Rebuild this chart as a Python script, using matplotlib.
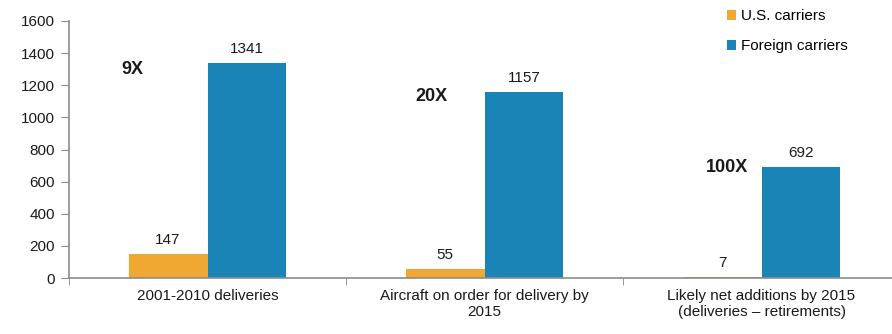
import numpy as np
import matplotlib.pyplot as plt

plt.rcParams['font.family'] = ['Liberation Sans', 'DejaVu Sans']

# data
categories = ['2001-2010 deliveries',
              'Aircraft on order for delivery by\n2015',
              'Likely net additions by 2015\n(deliveries \u2013 retirements)']
us_carriers = [147, 55, 7]
foreign_carriers = [1341, 1157, 692]
multiples = ['9X', '20X', '100X']
multiple_pos = [(-0.27, 1300), (0.81, 1130), (1.875, 690)]

orange = '#F0A833'
blue = '#1B84B7'
grey = '#8C8C8C'
txt_col = '#1a1a1a'

fig = plt.figure(figsize=(8.92, 3.34), dpi=100)
ax = fig.add_axes([69 / 892, 56 / 334, 823 / 892, 257 / 334])

x = np.arange(len(categories))
w = 0.285
b1 = ax.bar(x - w / 2, us_carriers, w, color=orange, label='U.S. carriers')
b2 = ax.bar(x + w / 2, foreign_carriers, w, color=blue, label='Foreign carriers')

for bars, vals in ((b1, us_carriers), (b2, foreign_carriers)):
    for r, v in zip(bars, vals):
        ax.annotate(str(v), (r.get_x() + r.get_width() / 2, r.get_height()),
                    xytext=(0, 5), textcoords='offset points',
                    ha='center', va='bottom', fontsize=11, color=txt_col)

for t, (tx, ty) in zip(multiples, multiple_pos):
    ax.text(tx, ty, t, ha='center', va='center', fontsize=13,
            fontweight='bold', color=txt_col)

ax.set_xlim(-0.5, 2.471)
ax.set_ylim(0, 1600)
ax.set_yticks(range(0, 1601, 200))
ax.set_xticks(x)
ax.set_xticklabels(categories, fontsize=11, color=txt_col)
ax.set_xticks([-0.5, 0.5, 1.5], minor=True)
ax.tick_params(axis='x', which='major', length=0, pad=8)
ax.tick_params(axis='x', which='minor', length=5, color=grey)
ax.tick_params(axis='y', length=6, color=grey, labelsize=11,
               labelcolor=txt_col, pad=4)

for s in ('top', 'right'):
    ax.spines[s].set_visible(False)
for s in ('left', 'bottom'):
    ax.spines[s].set_color(grey)
    ax.spines[s].set_linewidth(1.2)

fig.legend(handles=[b1, b2], loc='upper left',
           bbox_to_anchor=(718 / 892, 1.0), frameon=False,
           fontsize=11, handlelength=0.6, handleheight=0.6,
           handletextpad=0.3, labelspacing=1.05, borderpad=0.6,
           borderaxespad=0)

fig.savefig('out.png', dpi=100)
